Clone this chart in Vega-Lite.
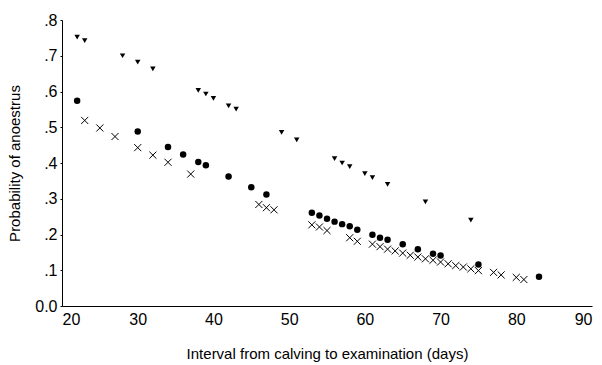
{
  "$schema": "https://vega.github.io/schema/vega-lite/v6.json",
  "width": 530,
  "height": 286,
  "autosize": {"type": "none"},
  "padding": {"left": 62, "top": 20, "right": 10, "bottom": 59},
  "background": "white",
  "config": {
    "view": {"stroke": null},
    "font": "Liberation Sans",
    "axis": {"grid": false, "domainColor": "black", "tickColor": "black", "labelColor": "black", "titleColor": "black", "titleFontWeight": "normal", "labelFont": "Liberation Sans", "titleFont": "Liberation Sans"}
  },
  "datasets": {
    "pts": [
      {"g": "tri", "x": 22, "y": 0.752},
      {"g": "tri", "x": 23, "y": 0.742},
      {"g": "tri", "x": 28, "y": 0.700},
      {"g": "tri", "x": 30, "y": 0.682},
      {"g": "tri", "x": 32, "y": 0.663},
      {"g": "tri", "x": 38, "y": 0.603},
      {"g": "tri", "x": 39, "y": 0.593},
      {"g": "tri", "x": 40, "y": 0.581},
      {"g": "tri", "x": 42, "y": 0.560},
      {"g": "tri", "x": 43, "y": 0.551},
      {"g": "tri", "x": 49, "y": 0.486},
      {"g": "tri", "x": 51, "y": 0.465},
      {"g": "tri", "x": 56, "y": 0.412},
      {"g": "tri", "x": 57, "y": 0.400},
      {"g": "tri", "x": 58, "y": 0.390},
      {"g": "tri", "x": 60, "y": 0.370},
      {"g": "tri", "x": 61, "y": 0.359},
      {"g": "tri", "x": 63, "y": 0.340},
      {"g": "tri", "x": 68, "y": 0.291},
      {"g": "tri", "x": 74, "y": 0.240},
      {"g": "dot", "x": 22, "y": 0.574},
      {"g": "dot", "x": 30, "y": 0.488},
      {"g": "dot", "x": 34, "y": 0.445},
      {"g": "dot", "x": 36, "y": 0.424},
      {"g": "dot", "x": 38, "y": 0.403},
      {"g": "dot", "x": 39, "y": 0.394},
      {"g": "dot", "x": 42, "y": 0.362},
      {"g": "dot", "x": 45, "y": 0.332},
      {"g": "dot", "x": 47, "y": 0.312},
      {"g": "dot", "x": 53, "y": 0.261},
      {"g": "dot", "x": 54, "y": 0.253},
      {"g": "dot", "x": 55, "y": 0.244},
      {"g": "dot", "x": 56, "y": 0.236},
      {"g": "dot", "x": 57, "y": 0.229},
      {"g": "dot", "x": 58, "y": 0.223},
      {"g": "dot", "x": 59, "y": 0.213},
      {"g": "dot", "x": 61, "y": 0.199},
      {"g": "dot", "x": 62, "y": 0.191},
      {"g": "dot", "x": 63, "y": 0.185},
      {"g": "dot", "x": 65, "y": 0.173},
      {"g": "dot", "x": 67, "y": 0.159},
      {"g": "dot", "x": 69, "y": 0.146},
      {"g": "dot", "x": 70, "y": 0.141},
      {"g": "dot", "x": 75, "y": 0.116},
      {"g": "dot", "x": 83, "y": 0.082},
      {"g": "x", "x": 23, "y": 0.519},
      {"g": "x", "x": 25, "y": 0.498},
      {"g": "x", "x": 27, "y": 0.474},
      {"g": "x", "x": 30, "y": 0.443},
      {"g": "x", "x": 32, "y": 0.422},
      {"g": "x", "x": 34, "y": 0.402},
      {"g": "x", "x": 37, "y": 0.369},
      {"g": "x", "x": 46, "y": 0.284},
      {"g": "x", "x": 47, "y": 0.275},
      {"g": "x", "x": 48, "y": 0.269},
      {"g": "x", "x": 53, "y": 0.227},
      {"g": "x", "x": 54, "y": 0.221},
      {"g": "x", "x": 55, "y": 0.211},
      {"g": "x", "x": 58, "y": 0.191},
      {"g": "x", "x": 59, "y": 0.181},
      {"g": "x", "x": 61, "y": 0.173},
      {"g": "x", "x": 62, "y": 0.166},
      {"g": "x", "x": 63, "y": 0.159},
      {"g": "x", "x": 64, "y": 0.154},
      {"g": "x", "x": 65, "y": 0.148},
      {"g": "x", "x": 66, "y": 0.142},
      {"g": "x", "x": 67, "y": 0.137},
      {"g": "x", "x": 68, "y": 0.132},
      {"g": "x", "x": 69, "y": 0.128},
      {"g": "x", "x": 70, "y": 0.123},
      {"g": "x", "x": 71, "y": 0.118},
      {"g": "x", "x": 72, "y": 0.113},
      {"g": "x", "x": 73, "y": 0.109},
      {"g": "x", "x": 74, "y": 0.104},
      {"g": "x", "x": 75, "y": 0.099},
      {"g": "x", "x": 77, "y": 0.094},
      {"g": "x", "x": 78, "y": 0.087},
      {"g": "x", "x": 80, "y": 0.080},
      {"g": "x", "x": 81, "y": 0.074}
    ]
  },
  "data": {"name": "pts"},
  "encoding": {
    "x": {
      "field": "x", "type": "quantitative",
      "scale": {"domain": [20, 90], "nice": false, "zero": false},
      "axis": {"values": [20, 30, 40, 50, 60, 70, 80, 90], "ticks": false, "labelPadding": 5, "labelFontSize": 16, "title": "Interval from calving to examination (days)", "titleFontSize": 15, "titlePadding": 19}
    },
    "y": {
      "field": "y", "type": "quantitative",
      "scale": {"domain": [0, 0.8], "nice": false},
      "axis": {"values": [0, 0.1, 0.2, 0.3, 0.4, 0.5, 0.6, 0.7, 0.8], "tickSize": 2, "labelPadding": 3, "labelFontSize": 16, "labelExpr": "datum.value == 0 ? '0.0' : replace(format(datum.value, '.1f'), '0.', '.')", "title": "Probability of anoestrus", "titleFontSize": 15, "titlePadding": 12}
    }
  },
  "layer": [
    {
      "transform": [{"filter": "datum.g == 'tri'"}],
      "mark": {"type": "point", "shape": "triangle-down", "filled": true, "color": "black", "opacity": 1, "size": 30}
    },
    {
      "transform": [{"filter": "datum.g == 'dot'"}],
      "mark": {"type": "point", "shape": "circle", "filled": true, "color": "black", "opacity": 1, "size": 42}
    },
    {
      "transform": [{"filter": "datum.g == 'x'"}],
      "mark": {"type": "point", "shape": "M-1,-1L1,1M-1,1L1,-1", "filled": false, "color": "black", "opacity": 1, "size": 50, "strokeWidth": 1}
    }
  ]
}
